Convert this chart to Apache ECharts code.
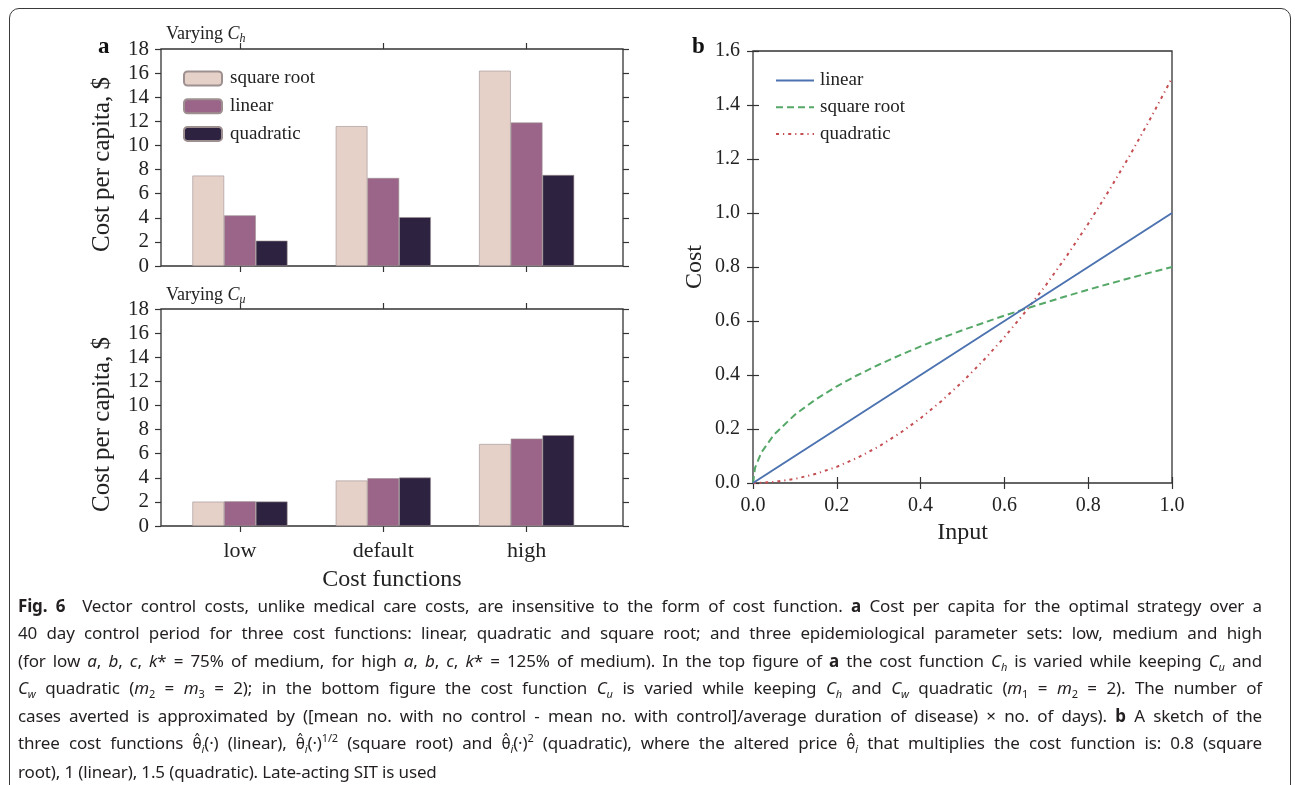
<!DOCTYPE html>
<html>
<head>
<meta charset="utf-8">
<script src="https://cdn.jsdelivr.net/npm/echarts@6/dist/echarts.min.js"></script>
<style>
    html, body { margin: 0; padding: 0; background: #fff; }
    #chart { position: absolute; left: 0; top: 0; width: 1295px; height: 785px; }
    #frame {
        position: absolute; left: 9px; top: 8px; width: 1282px; height: 820px;
        border: 1.5px solid #3a3a3a; border-radius: 10px; box-sizing: border-box; pointer-events: none;
    }
    #caption {
        position: absolute; left: 18px; top: 592px; width: 1244px;
        font-family: "Noto Sans", "Open Sans", sans-serif; font-size: 17px; line-height: 27.4px;
        color: #231f20; letter-spacing: -0.15px;
    }
    #caption div { white-space: nowrap; text-align: justify; text-align-last: justify; }
    #caption div.last { text-align-last: left; }
    #caption b { font-weight: 700; }
    #caption sub, #caption sup { font-size: 11px; line-height: 0; }
    #caption .th { font-family: "DejaVu Sans", sans-serif; font-style: normal; font-size: 15px; }
</style>
</head>
<body>
<div id="chart"></div>
<div id="frame"></div>
<div id="caption">
    <div><b>Fig. 6</b>&nbsp; Vector control costs, unlike medical care costs, are insensitive to the form of cost function. <b>a</b> Cost per capita for the optimal strategy over a</div>
    <div>40 day control period for three cost functions: linear, quadratic and square root; and three epidemiological parameter sets: low, medium and high</div>
    <div>(for low <i>a</i>, <i>b</i>, <i>c</i>, <i>k</i>* = 75% of medium, for high <i>a</i>, <i>b</i>, <i>c</i>, <i>k</i>* = 125% of medium). In the top figure of <b>a</b> the cost function <i>C<sub>h</sub></i> is varied while keeping <i>C<sub>u</sub></i> and</div>
    <div><i>C<sub>w</sub></i> quadratic (<i>m</i><sub>2</sub> = <i>m</i><sub>3</sub> = 2); in the bottom figure the cost function <i>C<sub>u</sub></i> is varied while keeping <i>C<sub>h</sub></i> and <i>C<sub>w</sub></i> quadratic (<i>m</i><sub>1</sub> = <i>m</i><sub>2</sub> = 2). The number of</div>
    <div>cases averted is approximated by ([mean no. with no control - mean no. with control]/average duration of disease) &times; no. of days). <b>b</b> A sketch of the</div>
    <div>three cost functions <span class="th">&#x03B8;&#x0302;</span><sub><i>i</i></sub>(&middot;) (linear), <span class="th">&#x03B8;&#x0302;</span><sub><i>i</i></sub>(&middot;)<sup>1/2</sup> (square root) and <span class="th">&#x03B8;&#x0302;</span><sub><i>i</i></sub>(&middot;)<sup>2</sup> (quadratic), where the altered price <span class="th">&#x03B8;&#x0302;</span><sub><i>i</i></sub> that multiplies the cost function is: 0.8 (square</div>
    <div class="last">root), 1 (linear), 1.5 (quadratic). Late-acting SIT is used</div>
</div>
<script>
// ---- panel a data (cost per capita, $) ----
var categories = ['low', 'default', 'high'];
var costFnNames = ['square root', 'linear', 'quadratic'];

// top: varying C_h
var chSqrt = [7.5, 11.6, 16.2];
var chLinear = [4.2, 7.3, 11.9];
var chQuad = [2.1, 4.05, 7.55];

// bottom: varying C_u
var cuSqrt = [2.02, 3.77, 6.8];
var cuLinear = [2.05, 3.96, 7.25];
var cuQuad = [2.03, 4.02, 7.53];

// ---- panel b data (sketch of cost functions) ----
var inputX = [0, 0.005, 0.02, 0.05, 0.1, 0.15, 0.2, 0.25, 0.3, 0.35, 0.4, 0.45, 0.5,
    0.55, 0.6, 0.65, 0.7, 0.75, 0.8, 0.85, 0.9, 0.95, 1.0];
var sqrtCost = [0, 0.057, 0.113, 0.179, 0.253, 0.31, 0.358, 0.4, 0.438, 0.473, 0.506, 0.537, 0.566,
    0.593, 0.62, 0.645, 0.669, 0.693, 0.716, 0.738, 0.759, 0.78, 0.8];
var quadCost = [0, 0, 0.0006, 0.004, 0.015, 0.034, 0.06, 0.094, 0.135, 0.184, 0.24, 0.304, 0.375,
    0.454, 0.54, 0.634, 0.735, 0.844, 0.96, 1.084, 1.215, 1.354, 1.5];
var linearX = [0, 1];
var linearCost = [0, 1];

var SERIF = '"Liberation Serif", "DejaVu Serif", serif';
var INK = '#222';
var SPINE = '#333';
var barColors = ['#e6d1c9', '#9a6589', '#2d2340'];
var lineColors = ['#4c72b0', '#55a868', '#c44e52'];

function pairs(xs, ys) {
    return xs.map(function (x, i) { return [x, ys[i]]; });
}

var tickOut = { show: true, inside: false, length: 6, lineStyle: { color: SPINE, width: 1.2 } };
var noLine = { show: false };

// one "frame" grid draws the spines + y ticks, one "bars" grid holds the categories
function frameX(gridIndex, name) {
    return {
        gridIndex: gridIndex, type: 'value', min: 0, max: 1,
        axisLine: noLine, axisTick: noLine, axisLabel: noLine, splitLine: noLine,
        name: name || '', nameLocation: 'middle', nameGap: 42,
        nameTextStyle: { fontFamily: SERIF, fontSize: 24, color: INK }
    };
}
function barX(gridIndex, position, showLabels) {
    return {
        gridIndex: gridIndex, type: 'category', position: position, data: categories,
        axisLine: noLine,
        axisTick: { show: true, alignWithLabel: true, length: 6, lineStyle: { color: SPINE, width: 1.2 } },
        axisLabel: { show: showLabels, margin: 14, fontFamily: SERIF, fontSize: 22, color: INK },
        splitLine: noLine
    };
}
function costY(gridIndex, position, showLabels) {
    return {
        gridIndex: gridIndex, type: 'value', position: position, min: 0, max: 18, interval: 2,
        axisLine: noLine, axisTick: tickOut, splitLine: noLine,
        axisLabel: { show: showLabels, margin: 12, fontFamily: SERIF, fontSize: 21, color: INK },
        name: showLabels ? 'Cost per capita, $' : '', nameLocation: 'middle', nameGap: 46, nameRotate: 90,
        nameTextStyle: { fontFamily: SERIF, fontSize: 25, color: INK, padding: [0, 14, 0, 0] }
    };
}
function hiddenY(gridIndex) {
    return { gridIndex: gridIndex, type: 'value', min: 0, max: 18, show: false };
}
function barSeries(name, data, idx, xi, yi) {
    return {
        type: 'bar', name: name, data: data, xAxisIndex: xi, yAxisIndex: yi,
        barWidth: 31.7, barGap: '0%',
        itemStyle: { color: barColors[idx], borderColor: '#9e9090', borderWidth: 0.6 }
    };
}
function lineSeries(name, data, idx, type) {
    return {
        type: 'line', name: name, data: data, xAxisIndex: 6, yAxisIndex: 6,
        symbol: 'none', smooth: false, z: 3 - idx,
        lineStyle: { color: lineColors[idx], width: 2, type: type },
        itemStyle: { color: lineColors[idx] }
    };
}
function panelTitle(sub, top) {
    return {
        text: '{n|Varying }{i|C}{s|' + sub + '}', left: 161, top: top,
        textStyle: { fontWeight: 'normal', rich: {
            n: { fontFamily: SERIF, fontSize: 18, fontWeight: 'normal', color: INK },
            i: { fontFamily: SERIF, fontSize: 18, fontWeight: 'normal', fontStyle: 'italic', color: INK },
            s: { fontFamily: SERIF, fontSize: 12, fontWeight: 'normal', fontStyle: 'italic', color: INK, padding: [9, 0, 0, 0] }
        } }
    };
}

var frameGrid = { show: true, borderColor: SPINE, borderWidth: 1.3, backgroundColor: 'transparent' };

var option = {
    animation: false,
    textStyle: { fontFamily: SERIF },
    title: [
        { text: 'a', left: 93, top: 31, textStyle: { fontFamily: SERIF, fontSize: 23, fontWeight: 'bold', color: '#111' } },
        { text: 'b', left: 687, top: 31, textStyle: { fontFamily: SERIF, fontSize: 23, fontWeight: 'bold', color: '#111' } },
        panelTitle('h', 19),
        panelTitle('u', 280)
    ],
    legend: [
        {
            data: costFnNames, orient: 'vertical', left: 178, top: 64,
            itemWidth: 38, itemHeight: 14, itemGap: 8.7,
            textStyle: { fontFamily: SERIF, fontSize: 19, color: INK, padding: [0, 0, 0, 3] },
            selectedMode: false
        },
        {
            data: ['b:linear', 'b:square root', 'b:quadratic'], orient: 'vertical', left: 770, top: 66,
            itemWidth: 38, itemHeight: 14, itemGap: 7.8,
            formatter: function (n) { return n.slice(2); },
            itemStyle: { opacity: 0, borderWidth: 0 },
            textStyle: { fontFamily: SERIF, fontSize: 19, color: INK, padding: [0, 0, 0, 1] },
            selectedMode: false
        }
    ],
    grid: [
        Object.assign({ left: 161, top: 49, width: 462, height: 217 }, frameGrid),
        { left: 168.3, top: 49, width: 430, height: 217 },
        Object.assign({ left: 161, top: 309, width: 462, height: 217 }, frameGrid),
        { left: 168.3, top: 309, width: 430, height: 217 },
        Object.assign({ left: 753, top: 51, width: 419, height: 432 }, frameGrid)
    ],
    xAxis: [
        frameX(0),
        barX(1, 'bottom', false),
        barX(1, 'top', false),
        frameX(2, 'Cost functions'),
        barX(3, 'bottom', true),
        barX(3, 'top', false),
        {
            gridIndex: 4, type: 'value', min: 0, max: 1, interval: 0.2, position: 'bottom',
            axisLine: noLine, axisTick: tickOut, splitLine: noLine,
            axisLabel: { margin: 13, fontFamily: SERIF, fontSize: 20, color: INK, formatter: function (v) { return v.toFixed(1); } },
            name: 'Input', nameLocation: 'middle', nameGap: 36,
            nameTextStyle: { fontFamily: SERIF, fontSize: 24, color: INK }
        },
        {
            gridIndex: 4, type: 'value', min: 0, max: 1, interval: 0.2, position: 'top',
            axisLine: noLine, axisTick: tickOut, axisLabel: noLine, splitLine: noLine
        }
    ],
    yAxis: [
        costY(0, 'left', true),
        costY(0, 'right', false),
        hiddenY(1),
        costY(2, 'left', true),
        costY(2, 'right', false),
        hiddenY(3),
        {
            gridIndex: 4, type: 'value', min: 0, max: 1.6, interval: 0.2, position: 'left',
            axisLine: noLine, axisTick: tickOut, splitLine: noLine,
            axisLabel: { margin: 13, fontFamily: SERIF, fontSize: 20, color: INK, formatter: function (v) { return v.toFixed(1); } },
            name: 'Cost', nameLocation: 'middle', nameGap: 46, nameRotate: 90,
            nameTextStyle: { fontFamily: SERIF, fontSize: 24, color: INK }
        },
        {
            gridIndex: 4, type: 'value', min: 0, max: 1.6, interval: 0.2, position: 'right',
            axisLine: noLine, axisTick: tickOut, axisLabel: noLine, splitLine: noLine
        }
    ],
    series: [
        barSeries(costFnNames[0], chSqrt, 0, 1, 2),
        barSeries(costFnNames[1], chLinear, 1, 1, 2),
        barSeries(costFnNames[2], chQuad, 2, 1, 2),
        barSeries(costFnNames[0], cuSqrt, 0, 4, 5),
        barSeries(costFnNames[1], cuLinear, 1, 4, 5),
        barSeries(costFnNames[2], cuQuad, 2, 4, 5),
        lineSeries('b:linear', pairs(linearX, linearCost), 0, 'solid'),
        lineSeries('b:square root', pairs(inputX, sqrtCost), 1, [7, 4]),
        lineSeries('b:quadratic', pairs(inputX, quadCost), 2, [3, 4, 1.2, 4])
    ]
};

var chart = echarts.init(document.getElementById('chart'), null, { renderer: 'canvas' });
chart.setOption(option);
</script>
</body>
</html>
